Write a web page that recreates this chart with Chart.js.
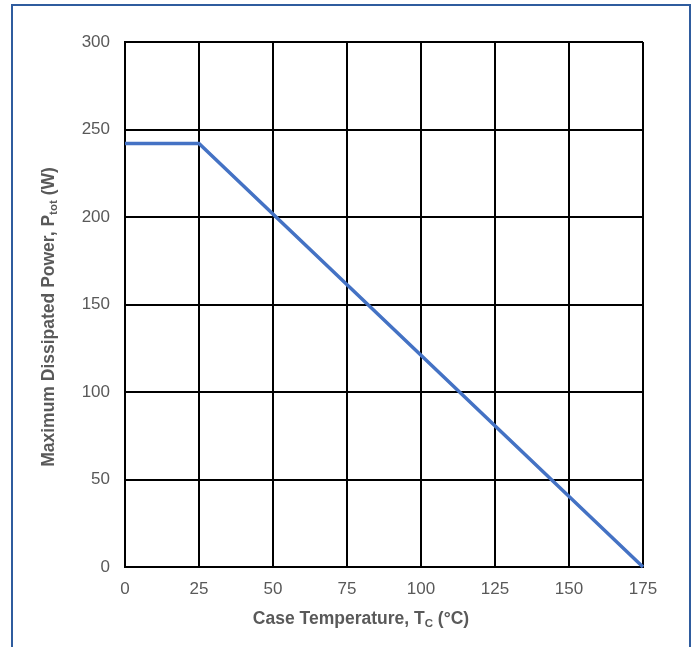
<!DOCTYPE html>
<html>
<head>
<meta charset="utf-8">
<script src="https://cdn.jsdelivr.net/npm/chart.js@4"></script>
<style>
  body { margin: 0; background: #fff; }
  #wrap { position: relative; width: 699px; height: 647px; overflow: hidden; }
  #frame { position: absolute; left: 11px; top: 4px; width: 680px; height: 700px;
           border: 2px solid #2f5c9e; box-sizing: border-box; }
  canvas { position: absolute; left: 0; top: 0; }
</style>
</head>
<body>
<div id="wrap">
  <div id="frame"></div>
  <canvas id="myChart" width="699" height="647"></canvas>
</div>
<script>
// data
const caseTemp = [0, 25, 175];        // Tc (°C)
const maxPower = [242, 242, 0];       // Ptot (W)
const xTicks = [0, 25, 50, 75, 100, 125, 150, 175];
const yTicks = [0, 50, 100, 150, 200, 250, 300];

const xTitle = [['Case Temperature, T', false], ['C', true], [' (°C)', false]];
const yTitle = [['Maximum Dissipated Power, P', false], ['tot', true], [' (W)', false]];

const textGrey = '#595959';

// draws a title with a subscript part, centred on (cx, cy)
function drawTitle(ctx, parts, cx, cy, angle) {
  const big = 'bold 17.5px "Liberation Sans"';
  const small = 'bold 11.5px "Liberation Sans"';
  let total = 0;
  parts.forEach(p => {
    ctx.font = p[1] ? small : big;
    total += ctx.measureText(p[0]).width;
  });
  ctx.save();
  ctx.translate(cx, cy);
  ctx.rotate(angle);
  ctx.textBaseline = 'middle';
  ctx.textAlign = 'left';
  ctx.fillStyle = textGrey;
  let x = -total / 2;
  parts.forEach(p => {
    ctx.font = p[1] ? small : big;
    ctx.fillText(p[0], x, p[1] ? 5 : 0);
    x += ctx.measureText(p[0]).width;
  });
  ctx.restore();
}

const axisTitles = {
  id: 'axisTitles',
  afterDraw(chart) {
    const ctx = chart.ctx;
    drawTitle(ctx, xTitle, 361, 619, 0);
    drawTitle(ctx, yTitle, 49, 317, -Math.PI / 2);
  }
};

const ctx = document.getElementById('myChart').getContext('2d');
new Chart(ctx, {
  type: 'scatter',
  data: {
    datasets: [{
      data: caseTemp.map((t, i) => ({ x: t, y: maxPower[i] })),
      showLine: true,
      borderColor: '#4472c4',
      borderWidth: 3.5,
      pointRadius: 0,
      fill: false,
      clip: false
    }]
  },
  options: {
    responsive: false,
    animation: false,
    layout: { padding: { left: 0, top: 42, right: 56, bottom: 0 } },
    plugins: { legend: { display: false }, tooltip: { enabled: false } },
    scales: {
      x: {
        type: 'linear',
        min: xTicks[0],
        max: xTicks[xTicks.length - 1],
        afterBuildTicks: axis => { axis.ticks = xTicks.map(v => ({ value: v })); },
        afterFit: axis => { axis.height = 80; },
        ticks: { color: textGrey, font: { family: 'Liberation Sans', size: 17 }, padding: 12, maxRotation: 0 },
        grid: { color: '#000', lineWidth: 2, drawTicks: false },
        border: { color: '#000', width: 2 }
      },
      y: {
        min: yTicks[0],
        max: yTicks[yTicks.length - 1],
        afterBuildTicks: axis => { axis.ticks = yTicks.map(v => ({ value: v })); },
        afterFit: axis => { axis.width = 125; },
        ticks: { color: textGrey, font: { family: 'Liberation Sans', size: 17 }, padding: 15 },
        grid: { color: '#000', lineWidth: 2, drawTicks: false },
        border: { color: '#000', width: 2 }
      }
    }
  },
  plugins: [axisTitles]
});
</script>
</body>
</html>
